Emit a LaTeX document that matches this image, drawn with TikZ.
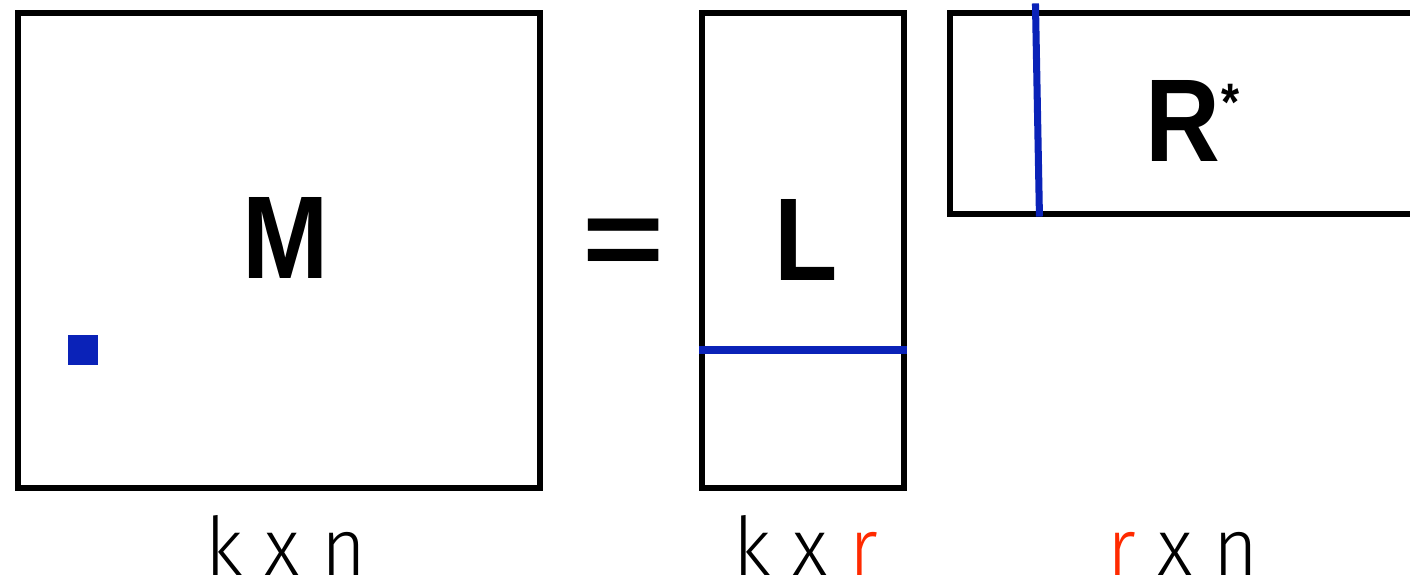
\documentclass[tikz,border=0pt]{standalone}
\usepackage{fontspec}
\setmainfont{Liberation Sans}
\newfontfamily\bigfont[FakeStretch=0.88]{Liberation Sans}
\newfontfamily\dimfont[FakeStretch=0.95]{Fira Sans Light}
\usepackage{xcolor}
\usepackage{tikz}
\usetikzlibrary{positioning,calc}
\definecolor{mfblue}{HTML}{0A22B8}
\definecolor{mfred}{HTML}{FF2A00}
\definecolor{mfdark}{HTML}{000000}
\tikzset{
  matbox/.style={draw=mfdark,line width=2.9pt,fill=white,inner sep=0pt},
  bigsym/.style={inner sep=0pt,font=\fontsize{67}{67}\bigfont\bfseries},
  cellbox/.style={fill=mfblue,inner sep=0pt,minimum size=6mm},
  selline/.style={draw=mfblue,line width=4pt},
  dimlabel/.style={font=\fontsize{46}{46}\dimfont,inner sep=0pt,anchor=base}
}

\begin{document}
\begin{tikzpicture}
    \useasboundingbox (0,0) rectangle (28.2,11.66);
    \clip (0,0) rectangle (28.2,11.66);

    \node[matbox,minimum width=104.4mm,minimum height=95mm] (M) at (5.58,6.65) {};
    \node[matbox,minimum width=40.4mm,minimum height=95mm] (L) at (16.06,6.65) {};
    \node[matbox,minimum width=110mm,minimum height=40.2mm] (R) at (24.5,9.39) {};

    \node[bigsym] (Mtxt) at (5.72,6.9) {M};
    \node[bigsym] (Ltxt) at (16.12,6.86) {L};
    \node[bigsym] (Rtxt) at (23.66,9.24) {R\rlap{\kern0.5pt\raisebox{0.35em}{\fontsize{30}{30}\selectfont *}}};
    \node[bigsym,font=\fontsize{80}{80}\selectfont\bfseries] (eq) at (12.48,6.7) {\scalebox{1}[0.8]{=}};

    \node[cellbox] (cell) at (1.66,4.66) {};
    \draw[selline] (L.west |- cell) -- (L.east |- cell);
    \draw[selline] ([xshift=17.6mm,yshift=1.4mm]R.north west) -- ([xshift=18.4mm]R.south west);

    \node[dimlabel] (Mdim) at (Mtxt |- 0,0.14) {k x n};
    \node[dimlabel] (Ldim) at (Ltxt |- Mdim.base) {k x \textcolor{mfred}{r}};
    \node[dimlabel] (Rdim) at (Rtxt |- Mdim.base) {\textcolor{mfred}{r} x n};
\end{tikzpicture}
\end{document}
